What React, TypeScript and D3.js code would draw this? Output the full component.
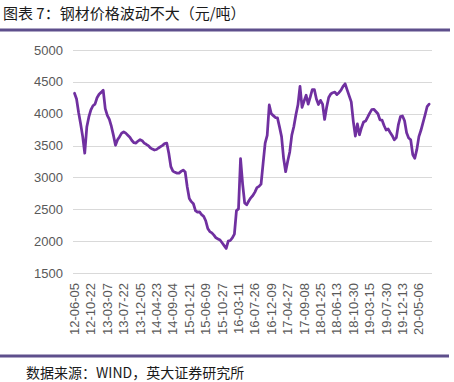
import React from "react";
import * as d3 from "d3";

const titleText = "图表 7：钢材价格波动不大（元/吨）";
const sourceText = "数据来源：WIND，英大证券研究所";

const xLabels = [
  "12-06-05", "12-10-22", "13-03-07", "13-07-22", "13-12-05", "14-04-23",
  "14-09-04", "15-01-21", "15-06-09", "15-10-27", "16-03-11", "16-07-26",
  "16-12-09", "17-04-27", "17-09-08", "18-01-25", "18-06-13", "18-10-30",
  "19-03-15", "19-07-30", "19-12-13", "20-05-06",
];

const yTicks = [1500, 2000, 2500, 3000, 3500, 4000, 4500, 5000];

// steel price, sampled along the category axis (8 samples per label interval)
const prices = [
  4322, 4230, 4020, 3840, 3640, 3380, 3790, 3950, 4060, 4125,
  4150, 4250, 4305, 4335, 4370, 4080, 3975, 3910, 3800, 3660,
  3505, 3590, 3640, 3695, 3716, 3695, 3663, 3632, 3580, 3545,
  3540, 3570, 3592, 3576, 3538, 3520, 3500, 3465, 3445, 3430,
  3438, 3462, 3483, 3503, 3533, 3540, 3380, 3170, 3100, 3080,
  3068, 3068, 3095, 3115, 3085, 2850, 2670, 2620, 2587, 2480,
  2455, 2460, 2415, 2390, 2320, 2200, 2150, 2130, 2095, 2052,
  2035, 2018, 1975, 1930, 1885, 2000, 2010, 2050, 2110, 2480,
  2506, 3295, 2900, 2600, 2570, 2630, 2680, 2716, 2770, 2840,
  2860, 2895, 3220, 3540, 3660, 4137, 4000, 3970, 3940, 3935,
  3794, 3640, 3300, 3090, 3255, 3400, 3663, 3800, 3985, 4140,
  4430, 4100, 4200, 4290, 4150, 4260, 4380, 4380, 4230, 4145,
  4210, 4150, 3910, 4100, 4255, 4310, 4330, 4340, 4300, 4330,
  4370, 4430, 4470, 4375, 4280, 4185, 3880, 3650, 3840, 3670,
  3780, 3870, 3885, 3945, 4010, 4065, 4070, 4035, 4000, 3905,
  3900, 3815, 3745, 3760, 3706, 3655, 3590, 3625, 3830, 3955,
  3965, 3890, 3700, 3620, 3592, 3360, 3300, 3440, 3640, 3740,
  3860, 3980, 4110, 4150,
];

const labelEvery = 8;

export default function App() {
  const W = 454;
  const H = 382;
  const plotLeft = 73;
  const plotRight = 432;

  const x = d3
    .scaleLinear()
    .domain([0, prices.length - 1])
    .range([74.5, 74.5 + (prices.length - 1) * 2.05]);
  const y = d3.scaleLinear().domain([1500, 5000]).range([273, 50]);

  const line = d3
    .line<number>()
    .x((_, i) => x(i))
    .y((d) => y(d))
    .curve(d3.curveLinear);

  return (
    <div style={{ position: "absolute", left: 0, top: 0, width: W, height: H }}>
      <svg width={W} height={H} style={{ display: "block", background: "#fff" }}>
        <text
          x={3}
          y={19}
          fontFamily="'Noto Sans CJK SC', sans-serif"
          fontSize={15}
          fill="#1a1a1a"
        >
          {titleText}
        </text>
        <line x1={0} x2={450} y1={30} y2={30} stroke="#5E4F8C" strokeWidth={3} />

        {yTicks.map((t) => (
          <g key={t}>
            <line
              x1={plotLeft}
              x2={plotRight}
              y1={Math.round(y(t)) + 0.5}
              y2={Math.round(y(t)) + 0.5}
              stroke="#D9D9D9"
              strokeWidth={1}
            />
            <text
              x={63}
              y={y(t)}
              dy="0.35em"
              textAnchor="end"
              fontFamily="'Liberation Sans', Arial, sans-serif"
              fontSize={13}
              fill="#595959"
            >
              {t}
            </text>
          </g>
        ))}

        {xLabels.map((lab, i) => {
          const px = x(i * labelEvery);
          return (
            <text
              key={lab}
              transform={`translate(${px},283) rotate(-90)`}
              dy="0.35em"
              textAnchor="end"
              fontFamily="'Liberation Sans', Arial, sans-serif"
              fontSize={13}
              fill="#595959"
            >
              {lab}
            </text>
          );
        })}

        <path
          d={line(prices) || ""}
          fill="none"
          stroke="#7030A0"
          strokeWidth={2.75}
          strokeLinejoin="round"
          strokeLinecap="round"
        />

        <line x1={0} x2={449} y1={356} y2={356} stroke="#5E4F8C" strokeWidth={3} />
        <text
          x={26}
          y={378}
          fontFamily="'Noto Sans CJK SC', 'Liberation Serif', serif"
          fontSize={14}
          fill="#1a1a1a"
        >
          {sourceText}
        </text>
      </svg>
    </div>
  );
}
